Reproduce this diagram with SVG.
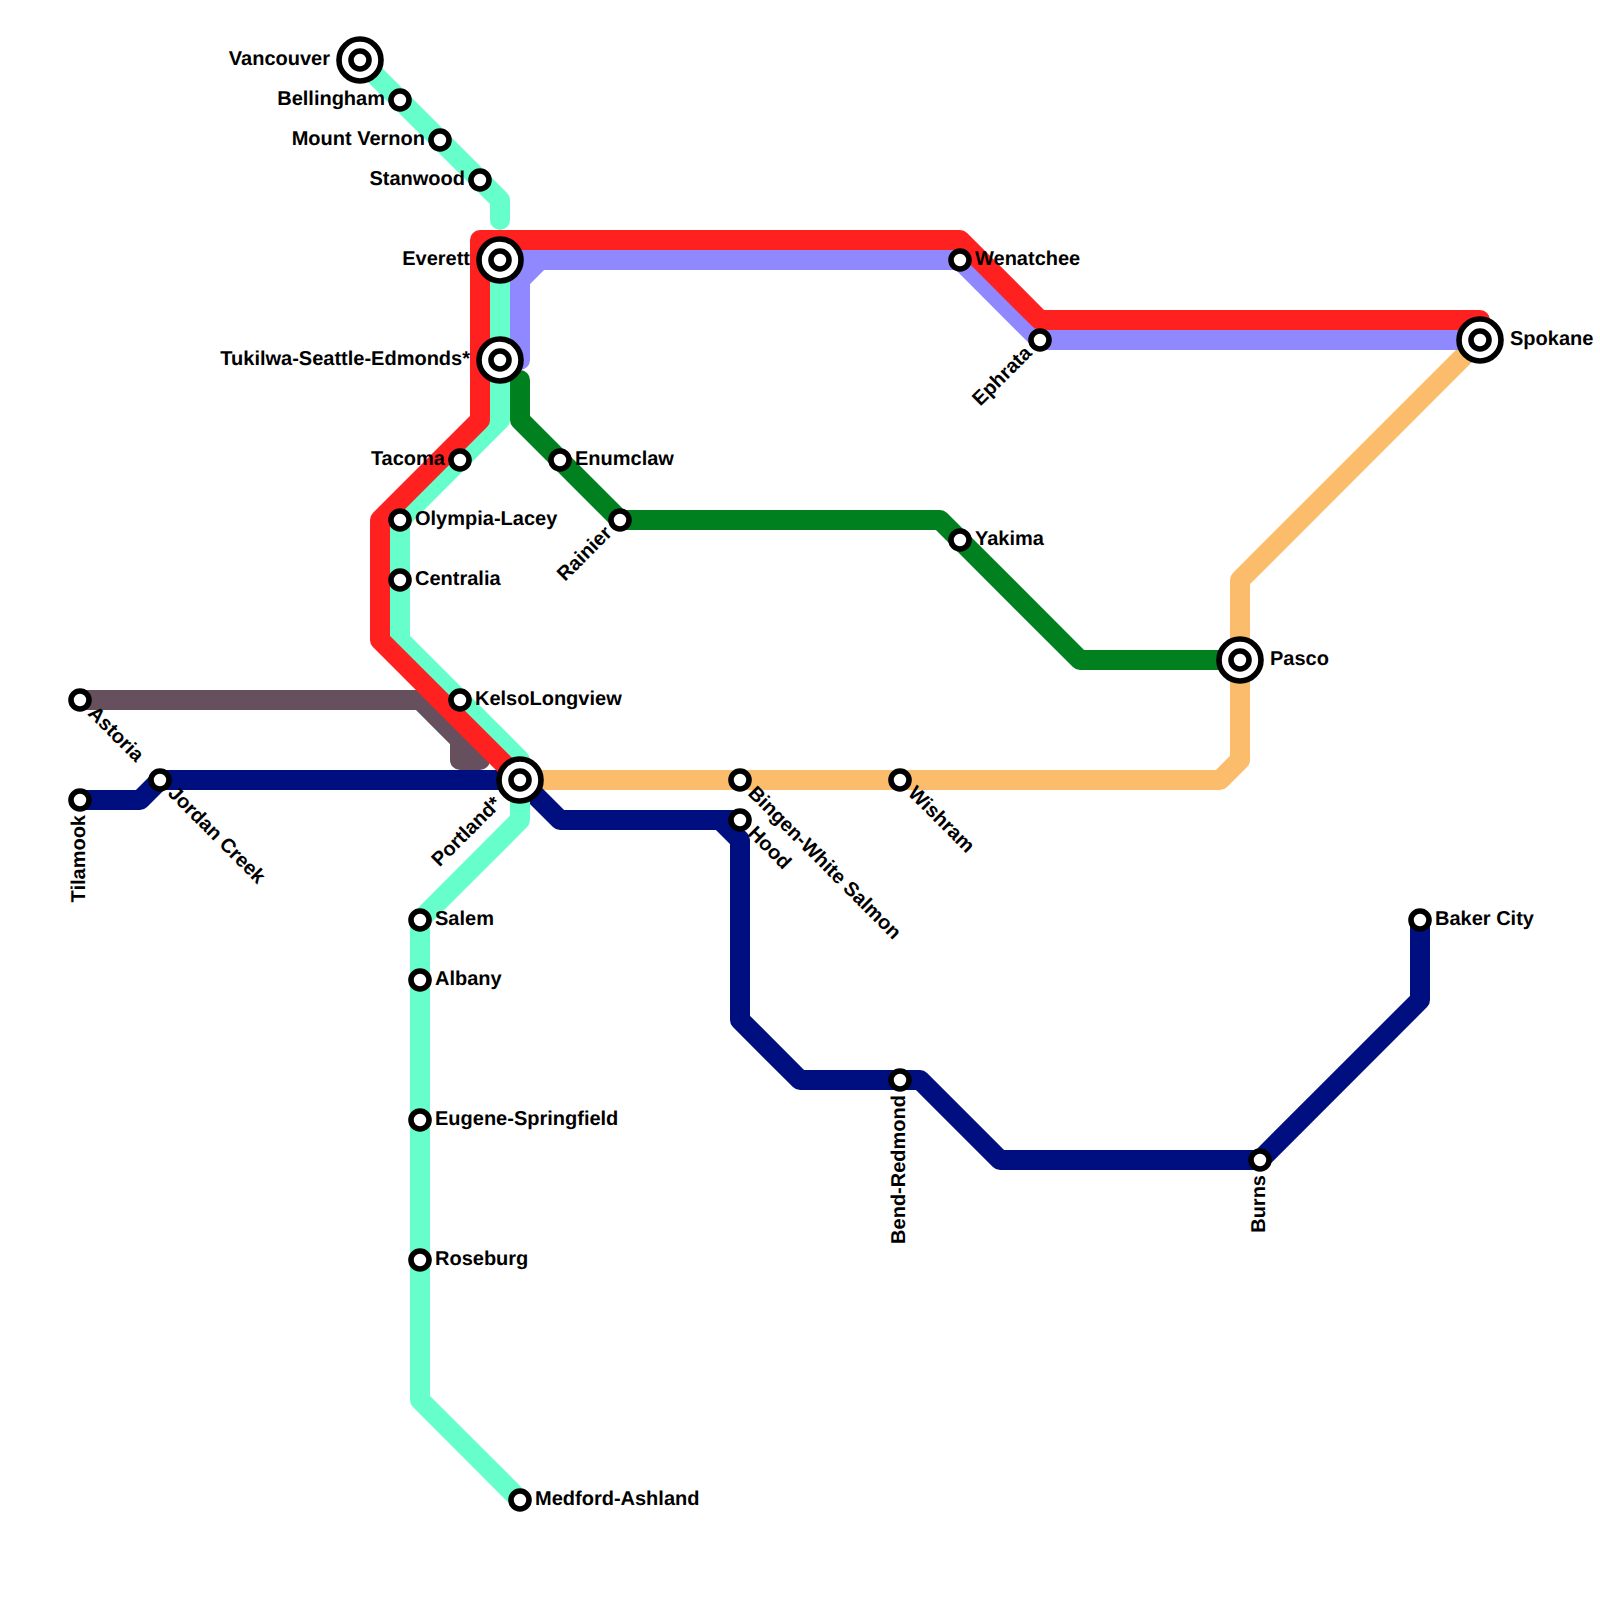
<svg xmlns="http://www.w3.org/2000/svg" width="1600" height="1600" viewBox="0 0 1600 1600">
<style>
.l{fill:none;stroke-width:20;stroke-linecap:round;stroke-linejoin:round}
.grey{stroke:#66505e}.aqua{stroke:#66ffcc}.red{stroke:#ff2020}.peri{stroke:#8f88ff}.green{stroke:#00801f}.navy{stroke:#000f80}.orange{stroke:#fbbc6c}
.s{fill:#fff;stroke:#000;stroke-width:5.6}
text{font-family:"Liberation Sans",Arial,sans-serif;font-weight:700;font-size:20px;fill:#000;text-rendering:geometricPrecision}
.e{text-anchor:end}
</style>
<defs>
<g id="st"><circle class="s" r="9"/></g>
<g id="ix"><circle class="s" r="21"/><circle class="s" r="9"/></g>
</defs>
<rect width="1600" height="1600" fill="#fff"/>
<g id="connectors">
<path class="l orange" d="M520 780H1220L1240 760V580L1480 340"/>
<path class="l grey" d="M80 700H420L480 760H460V740"/>
<path class="l navy" d="M80 800H140L160 780H520L560 820H740M720 820L740 840V1020L800 1080H920L1000 1160H1260L1420 1000V920"/>
<path class="l green" d="M520 380V420L620 520H940L1080 660H1240"/>
<path class="l peri" d="M1480 340H1040L960 260H500M540 260L520 280V360"/>
<path class="l aqua" d="M360 60L500 200V220M500 260V420L400 520V640L520 760V820L420 920V1400L520 1500"/>
<path class="l red" d="M1480 320H1040L960 240H480V420L380 520V640L510 770"/>
</g>
<g id="vancouver"><use href="#ix" x="360" y="60"/><text class="e" x="330" y="65">Vancouver</text></g>
<g id="bellingham"><use href="#st" x="400" y="100"/><text class="e" x="385" y="105">Bellingham</text></g>
<g id="mount-vernon"><use href="#st" x="440" y="140"/><text class="e" x="425" y="145">Mount Vernon</text></g>
<g id="stanwood"><use href="#st" x="480" y="180"/><text class="e" x="465" y="185">Stanwood</text></g>
<g id="everett"><use href="#ix" x="500" y="260"/><text class="e" x="470" y="265">Everett</text></g>
<g id="tukwila"><use href="#ix" x="500" y="360"/><text class="e" x="470" y="365">Tukilwa-Seattle-Edmonds*</text></g>
<g id="tacoma"><use href="#st" x="460" y="460"/><text class="e" x="445" y="465">Tacoma</text></g>
<g id="olympia"><use href="#st" x="400" y="520"/><text x="415" y="525">Olympia-Lacey</text></g>
<g id="centralia"><use href="#st" x="400" y="580"/><text x="415" y="585">Centralia</text></g>
<g id="kelso"><use href="#st" x="460" y="700"/><text x="475" y="705">KelsoLongview</text></g>
<g id="portland"><use href="#ix" x="520" y="780"/><text class="e" transform="translate(520 780) rotate(-45)" x="-30" y="5">Portland*</text></g>
<g id="salem"><use href="#st" x="420" y="920"/><text x="435" y="925">Salem</text></g>
<g id="albany"><use href="#st" x="420" y="980"/><text x="435" y="985">Albany</text></g>
<g id="eugene"><use href="#st" x="420" y="1120"/><text x="435" y="1125">Eugene-Springfield</text></g>
<g id="roseburg"><use href="#st" x="420" y="1260"/><text x="435" y="1265">Roseburg</text></g>
<g id="medford"><use href="#st" x="520" y="1500"/><text x="535" y="1505">Medford-Ashland</text></g>
<g id="enumclaw"><use href="#st" x="560" y="460"/><text x="575" y="465">Enumclaw</text></g>
<g id="rainier"><use href="#st" x="620" y="520"/><text class="e" transform="translate(620 520) rotate(-45)" x="-15" y="5">Rainier</text></g>
<g id="astoria"><use href="#st" x="80" y="700"/><text transform="translate(80 700) rotate(45)" x="15" y="5">Astoria</text></g>
<g id="tilamook"><use href="#st" x="80" y="800"/><text class="e" transform="translate(80 800) rotate(-90)" x="-15" y="5">Tilamook</text></g>
<g id="jordan-creek"><use href="#st" x="160" y="780"/><text transform="translate(160 780) rotate(45)" x="15" y="5">Jordan Creek</text></g>
<g id="bingen"><use href="#st" x="740" y="780"/><text transform="translate(740 780) rotate(45)" x="15" y="5">Bingen-White Salmon</text></g>
<g id="hood"><use href="#st" x="740" y="820"/><text transform="translate(740 820) rotate(45)" x="15" y="5">Hood</text></g>
<g id="wishram"><use href="#st" x="900" y="780"/><text transform="translate(900 780) rotate(45)" x="15" y="5">Wishram</text></g>
<g id="bend"><use href="#st" x="900" y="1080"/><text class="e" transform="translate(900 1080) rotate(-90)" x="-15" y="5">Bend-Redmond</text></g>
<g id="burns"><use href="#st" x="1260" y="1160"/><text class="e" transform="translate(1260 1160) rotate(-90)" x="-15" y="5">Burns</text></g>
<g id="baker-city"><use href="#st" x="1420" y="920"/><text x="1435" y="925">Baker City</text></g>
<g id="wenatchee"><use href="#st" x="960" y="260"/><text x="975" y="265">Wenatchee</text></g>
<g id="ephrata"><use href="#st" x="1040" y="340"/><text class="e" transform="translate(1040 340) rotate(-45)" x="-15" y="5">Ephrata</text></g>
<g id="yakima"><use href="#st" x="960" y="540"/><text x="975" y="545">Yakima</text></g>
<g id="pasco"><use href="#ix" x="1240" y="660"/><text x="1270" y="665">Pasco</text></g>
<g id="spokane"><use href="#ix" x="1480" y="340"/><text x="1510" y="345">Spokane</text></g>
</svg>
